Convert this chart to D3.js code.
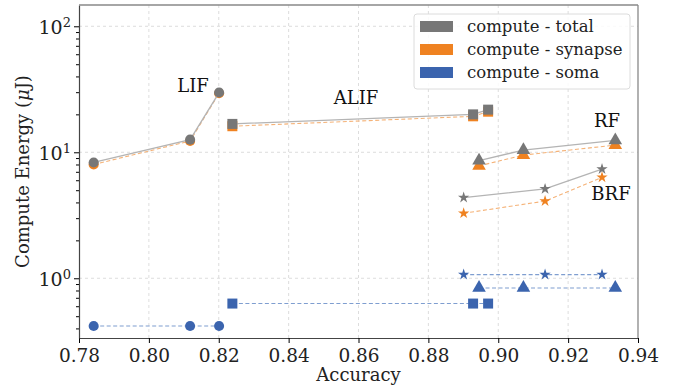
<!DOCTYPE html>
<html>
<head>
<meta charset="utf-8">
<script src="https://cdn.jsdelivr.net/npm/d3@7"></script>
<style>
body { margin: 0; background: #fff; }
text { font-family: "DejaVu Serif", serif; }
</style>
</head>
<body>
<script>
var width = 685;
var height = 388;
var padding = { left: 79, right: 47, top: 5, bottom: 50 };

// data: accuracy and energy (uJ) per model
var models = ["LIF", "ALIF", "RF", "BRF"];
var accLIF = [0.7842, 0.8118, 0.8201];
var totalLIF = [8.3, 12.6, 29.8];
var synLIF = [8.0, 12.3, 29.4];
var somaLIF = [0.418, 0.418, 0.418];

var accALIF = [0.8239, 0.8928, 0.8971];
var totalALIF = [16.8, 20.0, 21.8];
var synALIF = [16.1, 19.3, 21.0];
var somaALIF = [0.63, 0.63, 0.63];

var accRF = [0.8945, 0.9072, 0.9335];
var totalRF = [8.6, 10.4, 12.45];
var synRF = [7.8, 9.5, 11.4];
var somaRF = [0.838, 0.838, 0.838];

var accBRF = [0.8901, 0.9134, 0.9297];
var totalBRF = [4.37, 5.12, 7.36];
var synBRF = [3.28, 4.1, 6.33];
var somaBRF = [1.07, 1.07, 1.07];

var xTicks = [0.78, 0.80, 0.82, 0.84, 0.86, 0.88, 0.90, 0.92, 0.94];
var legendLabels = ["compute - total", "compute - synapse", "compute - soma"];

var gray = "#777777", orange = "#ef8221", blue = "#3b64ae";
// lighter line colours (matplotlib alpha over white)
var grayLine = "#b4b4b4", orangeLine = "#f5b277", blueLine = "#7f9ed0";

var svg = d3.select("body")
    .append("svg")
    .attr("width", width)
    .attr("height", height);

var plotW = width - padding.left - padding.right;
var plotH = height - padding.top - padding.bottom;

var xScale = d3.scaleLinear()
    .domain([0.78, 0.94])
    .range([0, plotW]);

var yScale = d3.scaleLog()
    .domain([Math.pow(10, -0.474), Math.pow(10, 2.169)])
    .range([plotH, 0]);

var g = svg.append("g")
    .attr("transform", "translate(" + padding.left + "," + padding.top + ")");

// grid
g.selectAll(".gx").data(xTicks.slice(1, -1)).enter().append("line")
    .attr("x1", function (d) { return xScale(d); })
    .attr("x2", function (d) { return xScale(d); })
    .attr("y1", 0).attr("y2", plotH)
    .attr("stroke", "#d4d4d4").attr("stroke-width", 0.8)
    .attr("stroke-dasharray", "3,3");
g.selectAll(".gy").data([1, 10, 100]).enter().append("line")
    .attr("x1", 0).attr("x2", plotW)
    .attr("y1", function (d) { return yScale(d); })
    .attr("y2", function (d) { return yScale(d); })
    .attr("stroke", "#d4d4d4").attr("stroke-width", 0.8)
    .attr("stroke-dasharray", "3,3");

// axes
var xAxis = d3.axisBottom(xScale)
    .tickValues(xTicks)
    .tickFormat(d3.format(".2f"))
    .tickSize(5)
    .tickSizeOuter(0);

var xg = g.append("g")
    .attr("transform", "translate(0," + plotH + ")")
    .call(xAxis);
xg.selectAll("text").attr("font-size", 18.5).attr("fill", "#222").attr("dy", "0.85em");
xg.select(".domain").attr("stroke", "#444").attr("stroke-width", 1.2);

var minorVals = [];
[0.1, 1, 10, 100].forEach(function (dec) {
    for (var k = 2; k <= 9; k++) {
        var v = dec * k;
        if (v > yScale.domain()[0] && v < yScale.domain()[1]) minorVals.push(v);
    }
});
var yMinor = d3.axisLeft(yScale).tickValues(minorVals).tickSize(3).tickFormat("").tickSizeOuter(0);
var ymg = g.append("g").call(yMinor);
ymg.select(".domain").remove();

var yAxis = d3.axisLeft(yScale)
    .tickValues([1, 10, 100])
    .tickSize(5)
    .tickSizeOuter(0)
    .tickFormat("");
var yg = g.append("g").call(yAxis);
yg.select(".domain").attr("stroke", "#444").attr("stroke-width", 1.2);
yg.selectAll(".tick").each(function (d) {
    var t = d3.select(this).append("text")
        .attr("x", -8).attr("dy", "0.4em")
        .attr("text-anchor", "end")
        .attr("fill", "#222")
        .attr("font-size", 19);
    t.append("tspan").text("10");
    t.append("tspan").attr("dy", "-0.55em").attr("font-size", 13).text(Math.round(Math.log10(d)));
});

// top/right spines
g.append("line").attr("x1", 0).attr("x2", plotW).attr("y1", 0).attr("y2", 0)
    .attr("stroke", "#888").attr("stroke-width", 1.3);
g.append("line").attr("x1", plotW).attr("x2", plotW).attr("y1", 0).attr("y2", plotH)
    .attr("stroke", "#888").attr("stroke-width", 1.3);

// axis labels
svg.append("text")
    .attr("x", padding.left + plotW / 2)
    .attr("y", 381)
    .attr("text-anchor", "middle")
    .attr("font-size", 18)
    .attr("fill", "#222")
    .text("Accuracy");

var yl = svg.append("text")
    .attr("transform", "translate(29," + (padding.top + plotH / 2) + ") rotate(-90)")
    .attr("text-anchor", "middle")
    .attr("font-size", 18)
    .attr("fill", "#222");
yl.append("tspan").text("Compute Energy (");
yl.append("tspan").attr("font-style", "italic").text("μ");
yl.append("tspan").text("J)");

// series
var groups = [
    { name: "LIF", acc: accLIF, total: totalLIF, syn: synLIF, soma: somaLIF, sym: d3.symbolCircle, size: 80 },
    { name: "ALIF", acc: accALIF, total: totalALIF, syn: synALIF, soma: somaALIF, sym: d3.symbolSquare, size: 100 },
    { name: "RF", acc: accRF, total: totalRF, syn: synRF, soma: somaRF, sym: d3.symbolTriangle, size: 80 },
    { name: "BRF", acc: accBRF, total: totalBRF, syn: synBRF, soma: somaBRF, sym: d3.symbolStar, size: 40 }
];

var line = d3.line()
    .x(function (d) { return xScale(d[0]); })
    .y(function (d) { return yScale(d[1]); });

function drawSeries(gr, vals, color, lineColor, dash, width) {
    var pts = gr.acc.map(function (a, i) { return [a, vals[i]]; });
    g.append("path")
        .attr("d", line(pts))
        .attr("fill", "none")
        .attr("stroke", lineColor)
        .attr("stroke-width", width)
        .attr("stroke-dasharray", dash);
    g.selectAll(null).data(pts).enter().append("path")
        .attr("transform", function (d) { return "translate(" + xScale(d[0]) + "," + yScale(d[1]) + ")"; })
        .attr("d", d3.symbol().type(gr.sym).size(gr.size))
        .attr("fill", color);
}

groups.forEach(function (gr) {
    drawSeries(gr, gr.soma, blue, blueLine, "4,2.5", 1.1);
    drawSeries(gr, gr.syn, orange, orangeLine, "4,2.5", 1.1);
    drawSeries(gr, gr.total, gray, grayLine, null, 1.3);
});

// model labels
var labelPos = { LIF: [193, 92], ALIF: [356, 104], RF: [607, 127], BRF: [611, 200] };
models.forEach(function (m) {
    svg.append("text")
        .attr("x", labelPos[m][0])
        .attr("y", labelPos[m][1])
        .attr("text-anchor", "middle")
        .attr("font-size", 18)
        .attr("fill", "#111")
        .text(m);
});

// legend
var lg = svg.append("g").attr("transform", "translate(414,14)");
lg.append("rect")
    .attr("width", 216).attr("height", 75).attr("rx", 3)
    .attr("fill", "#fff").attr("fill-opacity", 0.85)
    .attr("stroke", "#dcdcdc");
var legendColors = [gray, orange, blue];
legendLabels.forEach(function (lab, i) {
    lg.append("rect")
        .attr("x", 6).attr("y", 7 + i * 23)
        .attr("width", 33).attr("height", 11)
        .attr("fill", legendColors[i]);
    lg.append("text")
        .attr("x", 53).attr("y", 12.5 + i * 23)
        .attr("dy", "0.35em")
        .attr("font-size", 16.5)
        .attr("fill", "#222")
        .text(lab);
});
</script>
</body>
</html>
